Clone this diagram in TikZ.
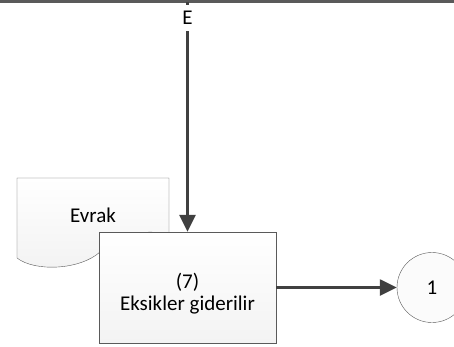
\documentclass[tikz,border=0pt]{standalone}
\usepackage{fontspec}
\setmainfont{Carlito}
\usetikzlibrary{arrows.meta}
\definecolor{kenar}{HTML}{404040}
\definecolor{cerceve}{HTML}{5A5A5A}
\definecolor{dolgu}{HTML}{F3F3F3}
\tikzstyle{every node}=[font=\fontsize{21}{22}\selectfont]

\begin{document}
\begin{tikzpicture}[x=1pt, y=-1pt, >={Triangle[length=17pt,width=16pt]}]
            \useasboundingbox (0,0) rectangle (454,346);
            \draw [line width=3pt, cerceve] (0,1.5) -- (454,1.5);

            % evrak
            \draw [cerceve, top color=white, bottom color=gray!10] (17,178) -- (169,178) -- (169,235)
                .. controls (140,226) and (118,240) .. (100,252)
                .. controls (80,270) and (35,272) .. (17,258) -- cycle;
            \node (evrak) at (93,215) {Evrak};

            \node (islem) [draw=cerceve, top color=white, bottom color=dolgu, minimum width=177, minimum height=111] at (187.5,287.5) {};
            \node [align=center] at (187.5,294) {(7)\\Eksikler giderilir};
            \node (baglanti) [circle, draw=cerceve, fill=gray!3, minimum size=70] at (432,287.5) {1};

            \coordinate (ust) at (187.5,1.5);
            \node (etiketE) [inner sep=0pt, minimum height=26] at (187.5,18) {E};
            \draw [kenar, line width=2.5pt] (ust) -- (etiketE.north);
            \draw [->, kenar, line width=2.5pt] (etiketE.south) -- (islem.north);
            \draw [->, kenar, line width=2.5pt] (islem.east) -- (baglanti.west);
        \end{tikzpicture}
\end{document}
